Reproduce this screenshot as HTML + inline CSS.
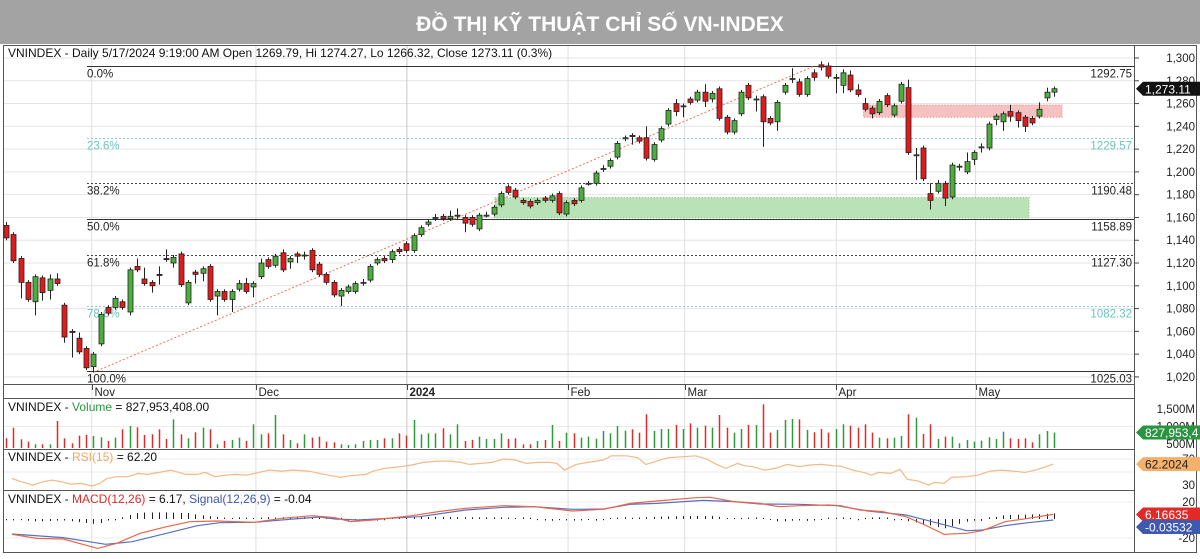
<!DOCTYPE html>
<html><head><meta charset="utf-8"><style>
html,body{margin:0;padding:0;background:#fff;}
svg{display:block;font-family:"Liberation Sans","Noto Sans CJK SC",sans-serif;}
</style></head><body>
<svg id="chart" width="1200" height="559" viewBox="0 0 1200 559" xmlns="http://www.w3.org/2000/svg">
<rect x="0" y="0" width="1200" height="44" fill="#a3a3a3"/>
<text x="600" y="31" text-anchor="middle" font-size="21" font-weight="bold" fill="#fff">ĐỒ THỊ KỸ THUẬT CHỈ SỐ VN-INDEX</text>
<rect x="3.5" y="45.5" width="1193" height="507" fill="#fff" stroke="#555"/>
<g id="grid"></g><g id="zones"></g><g id="fib"></g><g id="candles"></g><g id="vol"></g><g id="rsi"></g><g id="macd"></g><g id="axes"></g>
</svg>
<script>
const categoriesMonths=["Nov","Dec","2024","Feb","Mar","Apr","May"];
const monthIdx=[11.7,34.1,54.7,76.7,92.6,113.3,132.3];
const opens=[1153,1145,1124,1103,1086,1107,1096,1106,1083,1060,1054,1045,1029,1049,1081,1081,1086,1077,1117,1106,1103,1110,1124,1120,1128,1085,1112,1111,1117,1091,1095,1088,1097,1102,1099,1108,1123,1118,
1129,1121,1128,1127,1131,1119,1110,1103,1091,1095,1095,1103,1105,1120,1124,1123,1132,1137,1131,1145,
1154,1160,1161,1159,1162,1160,1160,1150,1162,1163,1171,1187,1184,1175,1174,1173,1177,
1175,1181,1163,1175,1175,1190,1190,1203,1205,1213,1229,1232,1230,1230,1211,1228,1242,1260,1258,1264,1263,1270,1264,1273,1248,1235,1251,1276,1264,1266,1247,1244,1270,1282,1279,1268,1287,
1294,1293,1283,1276,1285,1272,1260,1256,1252,1267,1250,1262,1274,1215,1221,1181,1183,1190,1178,1205,1200,1211,1222,1221,1246,1244,1253,1252,1248,1247,1249,1265,1270];
const highs=[1156,1147,1126,1105,1110,1109,1110,1111,1085,1062,1059,1047,1042,1077,1083,1091,1088,1116,1124,1116,1105,1117,1132,1127,1130,1105,1114,1117,1119,1097,1097,1097,1105,1107,1104,1124,1125,1128,
1132,1126,1130,1130,1133,1121,1112,1105,1098,1101,1104,1106,1119,1125,1126,1132,1134,1139,1146,1153,
1158,1163,1163,1166,1168,1162,1162,1164,1165,1171,1183,1189,1186,1177,1176,1177,1179,
1181,1183,1175,1177,1188,1192,1201,1206,1212,1227,1232,1234,1232,1240,1226,1240,1256,1264,1260,1266,1272,1277,1271,1275,1250,1247,1272,1278,1267,1268,1249,1263,1278,1291,1282,1284,1290,
1297,1296,1286,1290,1289,1277,1265,1258,1264,1269,1260,1279,1281,1221,1223,1190,1193,1192,1208,1207,1217,1219,1225,1244,1251,1253,1259,1254,1250,1249,1261,1274,1275];
const lows=[1140,1120,1089,1086,1074,1087,1088,1100,1050,1037,1040,1026,1024,1047,1074,1079,1079,1074,1112,1100,1094,1101,1121,1116,1099,1083,1102,1104,1086,1074,1086,1077,1095,1093,1090,1106,1115,1116,
1112,1115,1120,1123,1112,1108,1101,1090,1082,1093,1093,1100,1103,1118,1120,1120,1128,1129,1129,1143,
1152,1157,1157,1157,1158,1147,1152,1148,1160,1161,1169,1180,1176,1171,1168,1171,1173,
1173,1162,1161,1170,1173,1188,1188,1200,1203,1211,1227,1224,1225,1210,1209,1226,1240,1249,1248,1259,1261,1257,1261,1245,1233,1233,1249,1263,1253,1222,1241,1236,1268,1278,1266,1266,1280,
1289,1282,1269,1269,1270,1266,1253,1247,1250,1257,1248,1260,1215,1193,1192,1167,1181,1170,1176,1201,1198,1206,1217,1219,1241,1236,1244,1239,1235,1241,1247,1262,1266];
const closes=[1142,1122,1103,1088,1108,1094,1106,1102,1055,1059,1042,1028,1040,1075,1076,1089,1081,1114,1114,1102,1100,1109,1123,1125,1101,1103,1110,1115,1088,1095,1088,1095,1102,1095,1102,1120,1117,1126,
1114,1124,1126,1127,1114,1110,1103,1092,1096,1099,1102,1103,1117,1123,1122,1130,1130,1131,1144,1151,
1156,1160,1159,1161,1162,1155,1154,1162,1162,1169,1181,1182,1178,1173,1170,1175,1175,
1179,1164,1173,1172,1186,1190,1199,1203,1210,1225,1230,1231,1227,1212,1224,1238,1254,1253,1258,1261,1270,1262,1269,1247,1235,1245,1270,1265,1264,1244,1243,1261,1276,1282,1268,1282,1283,
1292,1284,1283,1287,1272,1268,1255,1251,1262,1259,1258,1277,1217,1215,1194,1175,1190,1177,1206,1205,1209,1217,1222,1242,1249,1251,1249,1245,1240,1243,1255,1270,1273];
const volumes=[663,967,634,568,491,491,491,1158,663,520,739,758,730,691,587,682,920,1015,977,758,777,920,644,1205,777,663,834,967,920,491,587,615,682,587,1063,777,806,1329,777,615,520,777,682,710,568,549,491,472,491,587,615,615,663,663,806,739,1186,777,806,806,948,777,1063,587,615,710,644,644,806,644,663,491,491,587,615,1044,587,825,806,682,710,650,
872,806,1015,882,920,825,1348,872,929,929,1044,929,1091,967,1025,967,1329,967,825,929,1044,1044,1634,825,901,1186,1215,1205,901,834,929,825,929,1063,1025,967,1063,825,682,663,682,730,1348,1253,787,1063,644,710,710,520,615,568,596,691,644,853,663,644,663,549,777,872,828];
const rsiIdx=[0.8,2.1,3.7,5.0,6.3,7.6,8.9,10.2,11.7,12.8,13.8,15.1,16.7,18.0,19.3,20.9,22.5,24.5,26.1,27.2,28.5,30.0,31.3,32.9,34.5,36.0,37.6,39.2,41.3,42.8,44.4,45.7,47.0,49.1,50.1,51.7,53.8,55.4,56.9,59.0,60.6,62.1,63.2,64.8,66.3,67.9,69.5,71.0,72.6,74.2,75.2,76.2,77.8,79.4,81.5,
82.6,84.7,86.2,87.3,88.8,90.4,92.5,94.1,95.6,96.7,98.2,99.8,100.8,101.9,103.5,105,106.6,108.2,109.7,111.3,112.9,113.9,115.5,117,118.1,119.1,120.7,122,123,124.3,125.9,126.7,128,129,131.1,132.7,134.3,135.8,137.4,139,140.5,141.6,142.9];
const rsiVals=[40.2,35,29.9,35,37.6,35,31.4,32.5,28.4,32.5,40.2,42.7,42.7,47.9,46.3,49.4,53,46.3,46.3,49.4,42.7,45.3,46.3,45.3,49.4,53,51.4,53,51.4,47.9,44.3,41.7,44.3,46.3,51.4,55.5,58.1,60.7,64.8,66.8,66.8,64.8,61.7,63.2,64.8,69.9,68.4,63.2,64.8,64.8,63.2,53,61.7,64.8,68.4,
75,75,72,61.7,66.8,72,73.5,75,69.9,63.2,55.5,63.2,59.6,58.1,53,55.5,61.7,58.1,60.7,61.7,59.6,59.1,53,49.4,45.3,49.4,47.9,54,38.6,36.6,29.9,34,32.5,41.7,42.7,45.3,51.4,53,51.4,49.4,53,57,62.2];
const macdIdx=[0.8,4.2,7.8,12.5,15.1,18.3,21.9,25.1,28.7,33.9,37.6,41.8,44.9,47,50.1,55.4,59,62.7,67.9,72.1,77.3,81.5,85.2,88.8,94.1,96.1,99.3,102.9,105.5,108.2,112.3,113.9,116.5,119.6,122.8,125.4,128,131.1,133.2,136.3,139.5,142.9];
const macdVals=[-15.9,-20.4,-21.1,-31.5,-25.9,-14.8,-7.4,-1.9,-1.1,-2.6,1.9,4.8,2.6,-1.9,0,4.8,9.3,13,15.9,14.8,10,11.9,18.5,21.1,24.8,25.2,20.4,18.5,14.8,15.9,16.7,15.9,11.1,9.3,3.7,-5.6,-15.9,-14.8,-11.9,-1.9,1.9,6.17];
const sigIdx=[0.8,7.8,13.6,17.2,21.9,26.1,29.2,33.9,39.2,42.8,44.9,48,52.2,56.4,62.7,67.9,72.1,77.3,81.5,85.2,88.8,95.1,99.3,102.9,108.2,113.4,117.6,122.8,126.4,131.1,133.2,136.3,139.5,142.9];
const sigVals=[-15.6,-19.6,-27,-24.1,-14.8,-6.3,-3,-2.6,1.1,3.3,1.1,0,1.9,3.7,11.1,14.1,14.8,11.9,12.2,17.4,18.5,21.8,20.4,17.8,17.4,15.9,10,5.6,-1.9,-11.9,-11.1,-6.3,-3,-0.04];
const priceTicks=[1020,1040,1060,1080,1100,1120,1140,1160,1180,1200,1220,1240,1260,1280,1300];
const fibPct=["0.0%","23.6%","38.2%","50.0%","61.8%","78.6%","100.0%"];
const fibVals=[1292.75,1229.57,1190.48,1158.89,1127.30,1082.32,1025.03];
const fibDash=["solid","teal","dot","solid","dot","teal","solid"];

const NS="http://www.w3.org/2000/svg";
const n=closes.length;
const yP=v=>58+(1300-v)*1.139;
const xC=i=>6+i*(1048/(n-1));
const xI=t=>6+t*(1048/143);
const yV=m=>444-(m-500)*0.035;
const yR=r=>485-(r-30)*0.65;
const yM=m=>520-m*0.9;
function el(tag,attrs,parent,txt){const e=document.createElementNS(NS,tag);for(const k in attrs)e.setAttribute(k,attrs[k]);if(txt!==undefined)e.textContent=txt;parent.appendChild(e);return e;}
const G=id=>document.getElementById(id);
function interp(ix,vs,t){if(t<=ix[0])return vs[0];for(let k=1;k<ix.length;k++){if(t<=ix[k]){const f=(t-ix[k-1])/(ix[k]-ix[k-1]);return vs[k-1]+f*(vs[k]-vs[k-1]);}}return vs[vs.length-1];}

// grid
const grid=G('grid');
priceTicks.forEach(v=>{const l=el('line',{x1:4,x2:1134,y1:yP(v),y2:yP(v),stroke:'#e4e4e4'},grid);

});
[yV(1000),yR(70),yR(50),yM(20),yM(-20)].forEach(y=>{const l=el('line',{x1:4,x2:1134,y1:y,y2:y,stroke:'#ececec'},grid);

});
monthIdx.forEach((t,k)=>{const x=xI(t);const l=el('line',{x1:x,x2:x,y1:46,y2:552,stroke:k==2?'#c8c8c8':'#e0e0e0'},grid);

});
// zones
const zones=G('zones');
const zg=el('rect',{x:xI(66.7),y:yP(1177.5),width:xI(139.6)-xI(66.7),height:yP(1159.5)-yP(1177.5),fill:'#b9e2b7',stroke:'#7cc27a','stroke-dasharray':'1,2'},zones);


const zr=el('rect',{x:xI(117),y:yP(1258.7),width:xI(144.1)-xI(117),height:yP(1248)-yP(1258.7),fill:'#f6c1c1',stroke:'#ee7b7b','stroke-dasharray':'1,2'},zones);


// fib
const fib=G('fib');
fibVals.forEach((v,k)=>{const y=Math.round(yP(v))+0.5;const st=fibDash[k];
const l=el('line',{x1:87,x2:1134,y1:y,y2:y,stroke:st=='teal'?'#8fd0cc':(st=='dot'?'#444':'#333'),'stroke-width':1,'stroke-dasharray':st=='solid'?'none':'2,2'},fib);


const c=st=='teal'?'#6cc3bd':'#222';
const t1=el('text',{x:87,y:y+11,'font-size':11.5,fill:c},fib,fibPct[k]);


const t2=el('text',{x:1132,y:y+11,'font-size':11.5,fill:c,'text-anchor':'end'},fib,v.toFixed(2));

});
// trendline
const tl=el('line',{x1:xC(12),y1:yP(lows[12]),x2:xC(111),y2:yP(1292.75),stroke:'#e8735a','stroke-dasharray':'2,2'},fib);


// candles
const cg=G('candles');
for(let i=0;i<n;i++){const x=Math.round(xC(i))+0.5;const up=closes[i]>=opens[i];
const w=el('line',{x1:x,x2:x,y1:yP(highs[i]),y2:yP(lows[i]),stroke:'#222'},cg);


const top=yP(Math.max(opens[i],closes[i])),bot=yP(Math.min(opens[i],closes[i]));
const b=el('rect',{x:x-2.5,y:top,width:5,height:Math.max(1,bot-top),fill:up?'#4caf3c':'#e01b1b',stroke:'#222','stroke-width':0.8},cg);

}
// volume
const vg=G('vol');
const nv=volumes.length;
for(let i=0;i<nv;i++){const ci=Math.min(n-1,Math.round(i*(n-1)/(nv-1)));const x=Math.round(6+i*1048/(nv-1))+0.5;
const b=el('line',{x1:x,x2:x,y1:Math.max(400,yV(volumes[i])),y2:448,stroke:closes[ci]>=opens[ci]?'#2f9a3a':'#e02a2a','stroke-width':1.5},vg);

}
// rsi
const rp=rsiIdx.map((t,k)=>xI(t).toFixed(1)+','+yR(rsiVals[k]).toFixed(1)).join(' ');
const rl=el('polyline',{points:rp,fill:'none',stroke:'#f3b985','stroke-width':1.2},G('rsi'));


// macd
const mg=G('macd');
for(let i=0;i<n;i++){const t=i*143/(n-1);const d=interp(macdIdx,macdVals,t)-interp(sigIdx,sigVals,t);const x=Math.round(xC(i))+0.5;
const h=el('line',{x1:x,x2:x,y1:519,y2:519-d*0.9*Math.sign(1)+(Math.abs(d)<1?(d>=0?-1:1):0),stroke:'#222'},mg);

}
const sl=el('polyline',{points:sigIdx.map((t,k)=>xI(t).toFixed(1)+','+yM(sigVals[k]).toFixed(1)).join(' '),fill:'none',stroke:'#5b6fc0','stroke-width':1.2},mg);


const ml=el('polyline',{points:macdIdx.map((t,k)=>xI(t).toFixed(1)+','+yM(macdVals[k]).toFixed(1)).join(' '),fill:'none',stroke:'#e8664a','stroke-width':1.2},mg);


// axes & panels
const ax=G('axes');
[[384.5],[398.5],[449.5],[490.5]].forEach(a=>{const l=el('line',{x1:4,x2:1134,y1:a[0],y2:a[0],stroke:'#555'},ax);

});
const vr=el('line',{x1:1134.5,x2:1134.5,y1:46,y2:552,stroke:'#555'},ax);


monthIdx.forEach((t,k)=>{const x=Math.round(xI(t))+0.5;el('line',{x1:x,x2:x,y1:385,y2:390,stroke:'#444'},ax);
const tx=el('text',{x:x+2,y:396,'font-size':11.5,'font-weight':k==2?'bold':'normal',fill:'#222'},ax,categoriesMonths[k]);

});
priceTicks.forEach(v=>{el('line',{x1:1134,x2:1139,y1:yP(v),y2:yP(v),stroke:'#444'},ax);
const t=el('text',{x:1195,y:yP(v)+4,'font-size':11.5,'text-anchor':'end',fill:'#222'},ax,v.toLocaleString('en-US'));

});
[[yV(1500),'1,500M'],[yV(1000),'1,000M'],[yV(500),'500M'],[yR(70),'70'],[yR(30),'30'],[yM(20),'20'],[yM(-20),'-20']].forEach(a=>{
const t=el('text',{x:1195,y:a[0]+4,'font-size':11.5,'text-anchor':'end',fill:'#222'},ax,a[1]);

});
function tag(y,bg,fg,txt,name){const g=el('g',{},ax);


el('polygon',{points:`1136,${y} 1143,${y-7} 1200,${y-7} 1200,${y+7} 1143,${y+7}`,fill:bg},g);
el('text',{x:1145,y:y+4.5,'font-size':12,fill:fg},g,txt);}
tag(yP(closes[n-1]),'#111','#fff','1,273.11','price-tag');
tag(yV(volumes[nv-1]),'#2a9440','#fff','827,953,4','volume-tag');
tag(yR(rsiVals[rsiVals.length-1]),'#f5b06a','#222','62.2024','rsi-tag');
tag(yM(macdVals[macdVals.length-1]),'#e02a2a','#fff','6.16635','macd-tag');
tag(yM(sigVals[sigVals.length-1])+7,'#3f58b0','#fff','-0.03532','signal-tag');
function label(y,parts,name){const t=el('text',{x:8,y:y,'font-size':12,fill:'#111'},ax);


parts.forEach(p=>{const s=document.createElementNS(NS,'tspan');s.setAttribute('fill',p[1]);s.textContent=p[0];t.appendChild(s);});}
label(57,[['VNINDEX - Daily 5/17/2024 9:19:00 AM Open 1269.79, Hi 1274.27, Lo 1266.32, Close 1273.11 (0.3%)','#111']],'price-header');
label(411,[['VNINDEX - ','#111'],['Volume','#2a9440'],[' = 827,953,408.00','#111']],'volume-header');
label(461,[['VNINDEX - ','#111'],['RSI(15)','#f0a860'],[' = 62.20','#111']],'rsi-header');
label(503,[['VNINDEX - ','#111'],['MACD(12,26)','#e02a2a'],[' = 6.17, ','#111'],['Signal(12,26,9)','#3f58b0'],[' = -0.04','#111']],'macd-header');
</script>
</body></html>
